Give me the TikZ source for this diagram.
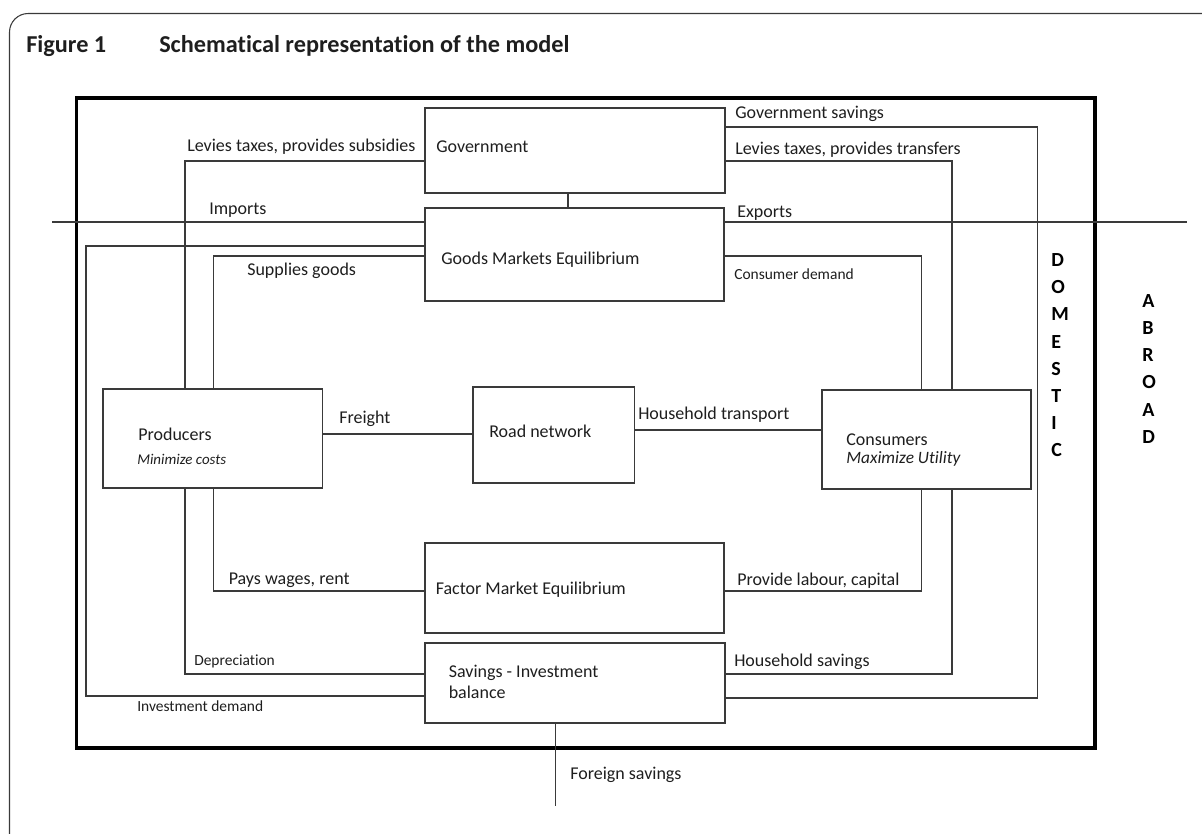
\documentclass[tikz,border=0pt]{standalone}
\usepackage{fontspec}
\setmainfont{Carlito}[Ligatures=NoCommon]
\usetikzlibrary{fit}
\definecolor{ln}{HTML}{3A3A3A}
\definecolor{tx}{HTML}{1E1E1E}
\begin{document}
\begin{tikzpicture}[x=0.75pt,y=-0.75pt,
  box/.style={draw=ln, line width=1.1pt, inner sep=0pt},
  conn/.style={draw=ln, line width=0.95pt},
  lbl/.style={anchor=base west, inner sep=0pt, text=tx, font=\fontsize{13.5}{16}\selectfont},
  slbl/.style={lbl, font=\fontsize{11.6}{14}\selectfont},
  ilbl/.style={lbl, font=\fontsize{13}{16}\selectfont\itshape},
  silbl/.style={lbl, font=\fontsize{11.2}{14}\selectfont\itshape},
  ttl/.style={anchor=base west, inner sep=0pt, text=tx, font=\fontsize{18.2}{21}\selectfont\bfseries},
  vlet/.style={anchor=base west, inner sep=0pt, text=black, font=\fontsize{15}{18}\selectfont\bfseries}
]
\useasboundingbox (0,0) rectangle (1202,834);
% outer frame
\draw[ln, line width=0.8pt, rounded corners=14] (9.5,840) -- (9.5,13.5) -- (1210,13.5);
% title
\node[ttl] (fig) at (26,52.5) {Figure 1};
\node[ttl] (title) at (159,52.5) {Schematical representation of the model};
% domestic border
\node[draw=black, line width=2.9pt, inner sep=0pt, fit={(76.5,98) (1095,748)}] (dom) {};
% boxes
\node[box, fit={(425,108) (725,193)}] (gov) {};
\node[box, fit={(425,208) (724,301)}] (goods) {};
\node[box, fit={(103,389) (322.6,488)}] (prod) {};
\node[box, fit={(473,387) (634.5,483)}] (road) {};
\node[box, fit={(822,390) (1031,489)}] (cons) {};
\node[box, fit={(425,543) (724,633)}] (factor) {};
\node[box, fit={(425,643) (725,723)}] (si) {};
% free ends
\coordinate (impL) at (52,222);
\coordinate (expR) at (1187,222);
\coordinate (fsEnd) at (555.7,806);
% connectors
\draw[conn] (gov.south -| 568,0) -- (goods.north -| 568,0);
\draw[conn] (gov.west |- 0,161) -| (prod.north -| 185,0);
\draw[conn] (prod.south -| 185,0) |- (si.west |- 0,674);
\draw[conn] (impL) -- (goods.west |- impL);
\draw[conn] (goods.east |- expR) -- (expR);
\draw[conn] (goods.west |- 0,246) -| (86,696) -- (si.west |- 0,696);
\draw[conn] (goods.west |- 0,256) -| (prod.north -| 213.5,0);
\draw[conn] (prod.south -| 213.5,0) |- (factor.west |- 0,591);
\draw[conn] (goods.east |- 0,256) -| (cons.north -| 921.7,0);
\draw[conn] (cons.south -| 921.7,0) |- (factor.east |- 0,591);
\draw[conn] (gov.east |- 0,161) -| (cons.north -| 952,0);
\draw[conn] (cons.south -| 952,0) |- (si.east |- 0,674);
\draw[conn] (gov.east |- 0,127) -| (1037.6,698) -- (si.east |- 0,698);
\draw[conn] (prod.east |- 0,434) -- (road.west |- 0,434);
\draw[conn] (road.east |- 0,430) -- (cons.west |- 0,430);
\draw[conn] (si.south -| fsEnd) -- (fsEnd);
% labels
\node[lbl] (l1) at (187,151.7) {Levies taxes, provides subsidies};
\node[lbl] (tgov) at (436,152.3) {Government};
\node[lbl] (l2) at (735,118.3) {Government savings};
\node[lbl] (l3) at (735,155) {Levies taxes, provides transfers};
\node[lbl] (l4) at (209,215) {Imports};
\node[lbl] (l5) at (737,217.3) {Exports};
\node[lbl] (tgoods) at (441,264) {Goods Markets Equilibrium};
\node[lbl] (l6) at (247,275) {Supplies goods};
\node[slbl] (l7) at (734,279) {Consumer demand};
\node[lbl] (tprod) at (138,440.7) {Producers};
\node[silbl] (tprod2) at (137,464.3) {Minimize costs};
\node[lbl] (l8) at (339,423.3) {Freight};
\node[lbl] (troad) at (489,437.3) {Road network};
\node[lbl] (l9) at (638,419.3) {Household transport};
\node[lbl] (tcons) at (846,445.7) {Consumers};
\node[ilbl] (tcons2) at (846,463.3) {Maximize Utility};
\node[lbl] (l10) at (228.5,584) {Pays wages, rent};
\node[lbl] (tfactor) at (435.5,594) {Factor Market Equilibrium};
\node[lbl] (l11) at (737,585) {Provide labour, capital};
\node[slbl] (l12) at (194,665) {Depreciation};
\node[lbl] (tsi) at (448.5,677.7) {Savings - Investment};
\node[lbl] (tsi2) at (448.5,698.3) {balance};
\node[lbl] (l13) at (734,666) {Household savings};
\node[slbl] (l14) at (137,711.7) {Investment demand};
\node[lbl] (l15) at (570,779) {Foreign savings};
% vertical words
\foreach \c [count=\i] in {D,O,M,E,S,T,I,C}
  \node[vlet] (dom\i) at (1051,{266.7+27.14*(\i-1)}) {\c};
\foreach \c [count=\i] in {A,B,R,O,A,D}
  \node[vlet] (abr\i) at (1142,{307+27.25*(\i-1)}) {\c};
\end{tikzpicture}
\end{document}
